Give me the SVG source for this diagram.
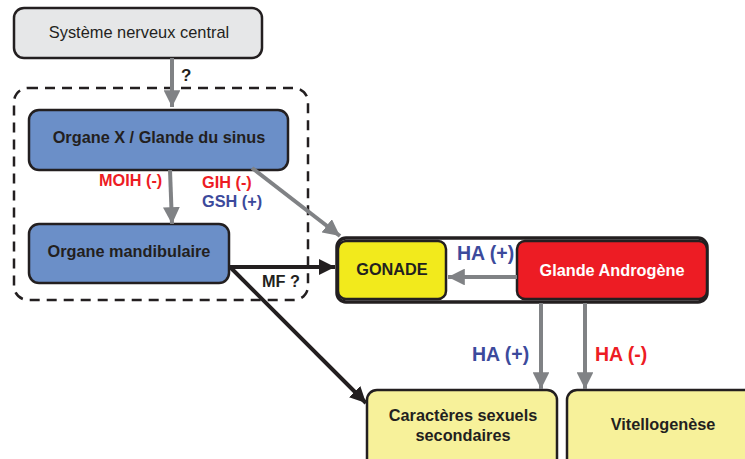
<svg xmlns="http://www.w3.org/2000/svg" width="745" height="459" viewBox="0 0 745 459">
<defs>
<marker id="ag" viewBox="0 0 10 10" refX="10" refY="5" markerWidth="4.2" markerHeight="4.2" markerUnits="strokeWidth" orient="auto"><path d="M0,0 L10,5 L0,10 z" fill="#808285"/></marker>
<marker id="ab" viewBox="0 0 10 10" refX="10" refY="5" markerWidth="4" markerHeight="4" markerUnits="strokeWidth" orient="auto"><path d="M0,0 L10,5 L0,10 z" fill="#231f20"/></marker>
</defs>
<style>
.box{stroke:#231f20;stroke-width:2.5}
.t{font-family:"Liberation Sans",Arial,sans-serif;font-weight:bold;font-size:16.3px;fill:#231f20;text-anchor:middle}
.g{fill:none;stroke:#808285;stroke-width:4}
.k{fill:none;stroke:#231f20;stroke-width:4}
.lbl{font-family:"Liberation Sans",Arial,sans-serif;font-weight:bold}
.red{fill:#ed1c24}
.blue{fill:#3c4a9c}
</style>
<rect x="14" y="88" width="294" height="212" rx="14" fill="none" stroke="#231f20" stroke-width="2.5" stroke-dasharray="10,7"/>
<g id="snc"><rect class="box" x="14" y="8" width="248" height="50" rx="10" fill="#e6e7e8"/><text class="t" x="139" y="38" style="font-weight:normal;font-size:16.4px">Système nerveux central</text></g>
<g id="organeX"><rect class="box" x="29" y="110" width="259" height="60" rx="10" fill="#6b8fc8"/><text class="t" x="159" y="143">Organe X / Glande du sinus</text></g>
<g id="mandibulaire"><rect class="box" x="29" y="224" width="200" height="59" rx="10" fill="#6b8fc8"/><text class="t" x="129" y="257">Organe mandibulaire</text></g>
<g id="container"><rect x="337" y="238" width="370" height="64" rx="9" fill="#fff" stroke="#231f20" stroke-width="3.5"/></g>
<g id="gonade"><rect class="box" x="338" y="241" width="108" height="58" rx="8" fill="#f2ea1c"/><text class="t" x="392" y="275">GONADE</text></g>
<g id="androgene"><rect class="box" x="517" y="241" width="190" height="58" rx="8" fill="#ed1c24"/><text class="t" x="612" y="276" style="fill:#fff">Glande Androgène</text></g>
<g id="caracteres"><rect class="box" x="367" y="390" width="190" height="80" rx="10" fill="#f7f19a"/><text class="t" x="463" y="421">Caractères sexuels</text><text class="t" x="463" y="441">secondaires</text></g>
<g id="vitello"><rect class="box" x="567" y="390" width="190" height="80" rx="10" fill="#f7f19a"/><text class="t" x="663" y="430">Vitellogenèse</text></g>
<g id="connectors">
<line class="g" x1="172" y1="58" x2="172" y2="107" marker-end="url(#ag)"/>
<line class="g" x1="170" y1="170" x2="172" y2="224" marker-end="url(#ag)"/>
<line class="g" x1="252" y1="168" x2="340" y2="236" marker-end="url(#ag)"/>
<line class="g" x1="517" y1="277" x2="448" y2="277" marker-end="url(#ag)"/>
<line class="g" x1="541" y1="303" x2="541" y2="389" marker-end="url(#ag)"/>
<line class="g" x1="585" y1="303" x2="585" y2="389" marker-end="url(#ag)"/>
<line class="k" x1="229" y1="267" x2="335" y2="267" marker-end="url(#ab)"/>
<line class="k" x1="231" y1="268" x2="366" y2="403" marker-end="url(#ab)"/>
</g>
<g id="labels">
<text class="lbl" x="181" y="81" font-size="17" fill="#231f20">?</text>
<text class="lbl red" x="99" y="186" font-size="16.3">MOIH (-)</text>
<text class="lbl red" x="202" y="188" font-size="16.3">GIH (-)</text>
<text class="lbl blue" x="202" y="207" font-size="16.3">GSH (+)</text>
<text class="lbl" x="262" y="287" font-size="16.3" fill="#231f20">MF ?</text>
<text class="lbl blue" x="457" y="260" font-size="19.5">HA (+)</text>
<text class="lbl blue" x="472" y="361" font-size="19.5">HA (+)</text>
<text class="lbl red" x="595" y="361" font-size="19.5">HA (-)</text>
</g>
</svg>
